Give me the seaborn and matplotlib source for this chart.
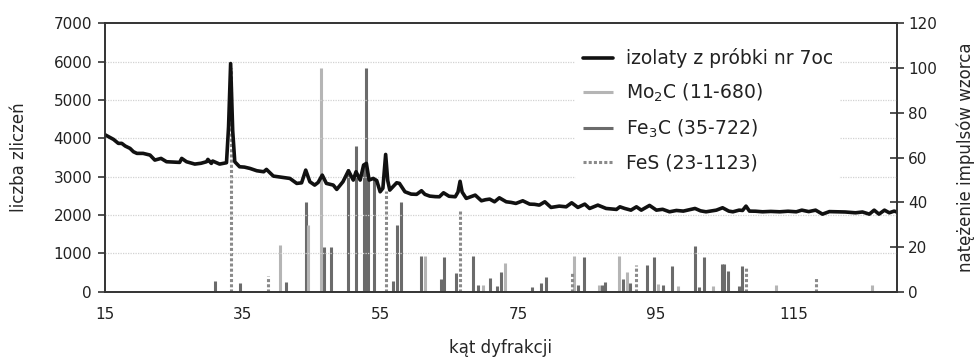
import matplotlib
matplotlib.use("Agg")
import matplotlib.pyplot as plt
import seaborn as sns

# dyfraktogram: kat 2theta i liczba zliczen
two_theta = [15.0, 15.5, 16.3, 17.0, 17.5, 18.0, 18.7, 19.2, 19.7, 20.6, 21.6, 22.3,
             23.2, 24.0, 25.0, 25.9, 26.2, 26.9, 28.1, 29.0, 29.8, 30.0, 30.5, 30.7,
             31.7, 32.7, 33.0, 33.3, 33.6, 33.9, 34.6, 35.3, 36.1, 37.1, 38.1, 38.5,
             39.5, 40.9, 41.9, 42.9, 43.6, 44.2, 44.8, 45.5, 46.0, 46.6, 47.2, 48.2,
             48.7, 49.6, 50.4, 51.1, 51.5, 52.1, 52.6, 53.0, 53.4, 54.0, 54.5, 55.0,
             55.4, 55.8, 56.1, 56.4, 57.4, 57.8, 58.6, 59.5, 60.3, 61.0, 61.5, 62.2,
             63.0, 63.6, 64.2, 65.0, 65.9, 66.3, 66.6, 66.9, 67.5, 68.2, 68.8, 69.7,
             70.3, 70.9, 71.6, 72.3, 73.3, 74.0, 74.7, 75.7, 76.7, 77.4, 78.1, 78.9,
             79.8, 81.0, 82.0, 82.8, 83.7, 84.7, 85.4, 86.6, 87.8, 89.3, 89.8, 90.5,
             91.4, 92.2, 92.9, 94.1, 95.1, 96.0, 97.0, 98.0, 99.0, 100.7, 101.5, 102.3,
             103.8, 104.7, 105.6, 106.2, 107.1, 107.6, 108.1, 108.6, 109.5, 110.5, 111.7,
             113.0, 114.2, 115.4, 116.2, 117.2, 118.2, 119.2, 120.2, 121.1, 122.5, 124.0,
             125.0, 126.0, 126.7, 127.4, 128.2, 128.9, 129.6, 130.0]
counts = [4100, 4050, 3973, 3869, 3869, 3800, 3738, 3650, 3608, 3608, 3564, 3433,
          3477, 3390, 3380, 3373, 3477, 3390, 3329, 3350, 3390, 3451, 3347, 3408,
          3329, 3364, 4300, 5950, 4200, 3390, 3259, 3250, 3216, 3155, 3129, 3190,
          3016, 2982, 2955, 2825, 2840, 3172, 2868, 2781, 2850, 3042, 2825, 2781,
          2669, 2868, 3155, 2912, 3129, 2912, 3303, 3347, 2912, 2955, 2900, 2607,
          2700, 3580, 2900, 2651, 2842, 2825, 2607, 2546, 2540, 2634, 2540, 2494,
          2480, 2477, 2581, 2490, 2477, 2600, 2880, 2600, 2434, 2480, 2520, 2372,
          2400, 2416, 2346, 2450, 2346, 2330, 2303, 2372, 2285, 2280, 2259, 2346,
          2199, 2233, 2215, 2320, 2199, 2285, 2172, 2259, 2172, 2147, 2215, 2172,
          2128, 2215, 2128, 2251, 2128, 2150, 2085, 2120, 2103, 2172, 2110, 2085,
          2128, 2190, 2103, 2085, 2128, 2120, 2233, 2103, 2100, 2085, 2095,
          2085, 2100, 2085, 2128, 2090, 2128, 2024, 2090, 2085, 2080, 2059,
          2080, 2024, 2128, 2024, 2128, 2059, 2103, 2080]

# wzorce (karty PDF) - polozenie i natezenie
mo2c_pos = [40.5, 44.6, 46.4, 61.5, 70.0, 73.1, 83.2, 86.7, 89.7, 90.9, 95.3, 98.3,
            103.3, 112.4, 126.4]
mo2c_int = [21, 30, 100, 16, 3, 13, 16, 3, 16, 9, 3.5, 2.5, 2.5, 3, 3]

fe3c_pos = [31.0, 34.6, 41.3, 44.2, 46.9, 47.8, 50.4, 51.5, 52.6, 53.0, 53.3, 54.1,
            56.8, 57.4, 58.1, 60.9, 63.9, 64.3, 66.0, 68.5, 69.2, 70.9, 72.0, 72.5,
            77.1, 78.4, 79.1, 83.7, 84.6, 87.2, 87.7, 90.3, 91.3, 93.8, 94.8, 96.1,
            97.3, 100.7, 101.3, 102.0, 104.6, 104.9, 105.5, 107.1, 107.5]
fe3c_int = [5, 4, 4.5, 40, 20, 20, 55, 65, 56, 100, 51, 51,
            5, 30, 40, 16, 5.5, 15.5, 8.5, 16, 3, 6, 2.5, 9,
            2, 4, 6.5, 3, 15.5, 3, 4.5, 5.5, 4, 12, 15.5, 3.2,
            11.5, 20.5, 2, 15.5, 12.5, 12.5, 9.5, 2.5, 11.5]

fes_pos = [33.3, 38.7, 55.8, 66.6, 82.8, 92.2, 108.1, 118.2]
fes_int = [100, 7, 45, 36, 9, 12, 11, 6]

x_ticks = [15, 35, 55, 75, 95, 115]

sns.set_theme(style="white")
plt.rcParams["font.family"] = ["DejaVu Sans"]
plt.rcParams["font.size"] = 13.5
plt.rcParams["text.color"] = "#222222"
plt.rcParams["xtick.color"] = "#222222"
plt.rcParams["ytick.color"] = "#222222"

fig, ax1 = plt.subplots(figsize=(9.77, 3.58), dpi=100)
fig.subplots_adjust(left=0.107, right=0.918, top=0.935, bottom=0.185)
ax2 = ax1.twinx()

# slupki wzorcow na prawej osi
ax2.vlines(fe3c_pos, 0, fe3c_int, colors="#6b6b6b", linewidth=2.2, label="Fe$_3$C (35-722)")
ax2.vlines(mo2c_pos, 0, mo2c_int, colors="#b5b5b5", linewidth=2.2, label="Mo$_2$C (11-680)")
ax2.vlines(fes_pos, 0, fes_int, colors="#8a8a8a", linewidth=2.2,
           linestyles=[(0, (1, 0.7))], label="FeS (23-1123)")
ax2.set_ylim(0, 120)
ax2.set_yticks([0, 20, 40, 60, 80, 100, 120])
ax2.set_ylabel("natężenie impulsów wzorca", labelpad=14)

# krzywa na lewej osi, nad slupkami
ax1.set_zorder(ax2.get_zorder() + 1)
ax1.patch.set_visible(False)
sns.lineplot(x=two_theta, y=counts, ax=ax1, color="#111111", linewidth=2.6,
             label="izolaty z próbki nr 7oc")
ax1.set_xlim(15, 130)
ax1.set_ylim(0, 7000)
ax1.set_yticks(range(0, 7001, 1000))
ax1.set_xticks(x_ticks)
ax1.set_xlabel("kąt dyfrakcji", labelpad=12)
ax1.set_ylabel("liczba zliczeń", labelpad=18)
for v in range(1000, 7000, 1000):
    ax1.axhline(v, color="#d2d2d2", linestyle=(0, (1, 1)), linewidth=0.9, zorder=0)

for ax in (ax1, ax2):
    for s in ax.spines.values():
        s.set_color("#333333")
        s.set_linewidth(1.2)
ax1.tick_params(axis="y", direction="out", length=5, width=1.2, color="#333333", pad=4)
ax1.tick_params(axis="x", direction="out", length=7, width=1.2, color="#333333", pad=4)
ax2.tick_params(axis="y", direction="inout", length=10, width=1.2, color="#333333", pad=3)

h_curve = ax1.get_lines()[0]
cols = ax2.collections
handles = [h_curve, cols[1], cols[0], cols[2]]
labels = [h.get_label() for h in handles]
leg = ax1.legend(handles, labels, loc="upper left", bbox_to_anchor=(0.594, 0.935),
                 borderaxespad=0, frameon=True, facecolor="white", edgecolor="none",
                 framealpha=1, handlelength=1.6, handletextpad=0.7, labelspacing=0.72,
                 fontsize=13.5)

fig.savefig("out.png", dpi=100)
